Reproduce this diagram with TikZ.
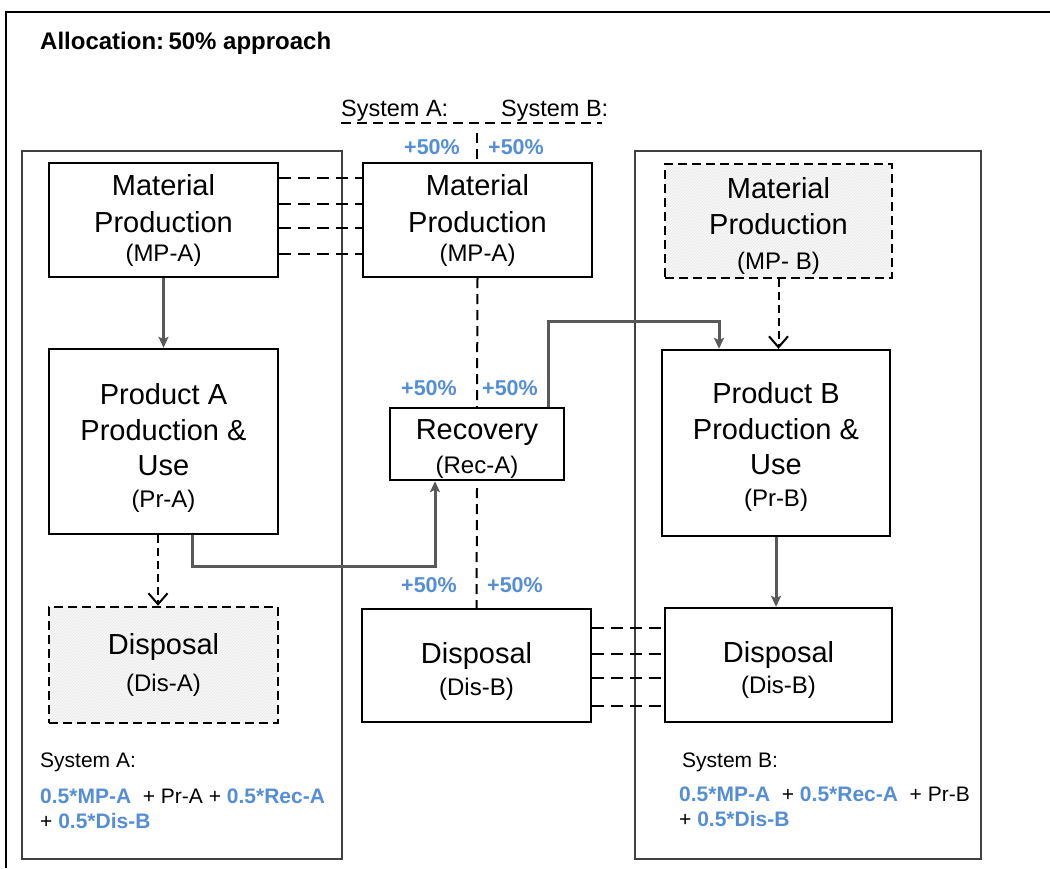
\documentclass[tikz,border=0pt]{standalone}
\usepackage{fontspec}
\setmainfont{Liberation Sans}
\usetikzlibrary{arrows.meta,patterns,calc}
\definecolor{myblue}{HTML}{558ED5}
\definecolor{arrowgray}{HTML}{595959}
\definecolor{hatchbg}{HTML}{F8F8F8}
\definecolor{framegray}{HTML}{404040}
\newcommand{\subfont}{\fontsize{24}{28}\selectfont}
\newcommand{\bluebold}[1]{\textcolor{myblue}{\bfseries #1}}
\begin{document}
\begin{tikzpicture}[x=1pt,y=-1pt,
  box/.style={draw=black, line width=2.4pt, rectangle, inner sep=0pt, align=center,
    font=\fontsize{29}{37}\selectfont},
  hatchbox/.style={box, dash pattern=on 9pt off 5pt,
    preaction={fill=hatchbg}, pattern=north east lines, pattern color=black!9},
  sysframe/.style={draw=framegray, line width=1.4pt},
  garrow/.style={draw=arrowgray, line width=3pt, -{Stealth[length=11pt,width=10pt,inset=2.5pt]}},
  darrow/.style={draw=black, line width=2pt, dash pattern=on 8pt off 5pt,
    -{Straight Barb[length=11pt,width=19pt,line width=2pt]}},
  dline/.style={draw=black, line width=2pt, dash pattern=on 12pt off 7pt},
  axisline/.style={draw=black, line width=2pt, dash pattern=on 10pt off 6pt},
  pct/.style={anchor=base west, text=myblue, font=\fontsize{21.5}{25}\selectfont\bfseries, inner sep=0pt},
  hdr/.style={anchor=base west, font=\fontsize{23.5}{28}\selectfont, inner sep=0pt},
  formula/.style={anchor=base west, font=\fontsize{21}{25}\selectfont, inner sep=0pt},
]
\useasboundingbox (0,0) rectangle (1050,868);
% outer frame
\draw[line width=1.5pt] (6,868) -- (6,12) -- (1050,12);
% title
\node[anchor=base west, inner sep=0pt, font=\fontsize{24}{28}\selectfont\bfseries] (title) at (40,49) {Allocation:\hspace{0.18em}50\% approach};
% system frames
\draw[sysframe] (22,151) rectangle (342,859);
\draw[sysframe] (635,151) rectangle (981,859);

% header
\node[hdr] (hdrA) at (341,116) {System A:};
\node[hdr] (hdrB) at (501,116) {System B:};
\coordinate (hdrL) at (341,123);
\coordinate (hdrR) at (602,123);
\coordinate (axtop) at (477,133);
\draw[axisline] (hdrL) -- (hdrR);

% boxes
\node[box, minimum width=229pt, minimum height=114pt] (mpA) at (163.5,220) {Material\\Production\\[-8pt]{\subfont (MP-A)}};
\node[box, minimum width=229pt, minimum height=114pt] (mpM) at (477.5,220) {Material\\Production\\[-8pt]{\subfont (MP-A)}};
\node[hatchbox, minimum width=227pt, minimum height=114pt] (mpB) at (778.5,221) {\rule{0pt}{30pt}Material\\[-1pt]Production\\[-2pt]{\subfont (MP- B)}};
\node[box, minimum width=229pt, minimum height=185pt] (prA) at (163.5,441.5) {\rule{0pt}{33pt}Product A\\[-1pt]Production \&\\[-2pt]Use\\[-5pt]{\subfont (Pr-A)}};
\node[box, minimum width=174pt, minimum height=72pt] (rec) at (477,444) {\rule{0pt}{29pt}Recovery\\[-3pt]{\subfont (Rec-A)}};
\node[box, minimum width=228pt, minimum height=186pt] (prB) at (776,443) {\rule{0pt}{29pt}Product B\\[-1pt]Production \&\\[-2pt]Use\\[-5pt]{\subfont (Pr-B)}};
\node[hatchbox, minimum width=229pt, minimum height=116pt] (disA) at (163.5,665) {Disposal\\{\subfont (Dis-A)}};
\node[box, minimum width=229pt, minimum height=113pt] (disM) at (476.5,665.5) {\rule{0pt}{32pt}Disposal\\[-5pt]{\subfont (Dis-B)}};
\node[box, minimum width=227pt, minimum height=114pt] (disB) at (778.5,665) {\rule{0pt}{30pt}Disposal\\[-6pt]{\subfont (Dis-B)}};

% central axis
\draw[axisline] (axtop) -- (axtop |- mpM.north);
\draw[axisline] (mpM.south) -- (rec.north);
\draw[axisline] ([yshift=-7pt]rec.south) -- (disM.north);

% dashed links
\foreach \yy in {178,204,228,254}
  \draw[dline] (mpA.east |- 0,\yy) -- (mpM.west |- 0,\yy);
\foreach \yy in {628,654,678,706}
  \draw[dline] (disM.east |- 0,\yy) -- (disB.west |- 0,\yy);

% percent labels
\node[pct] (p1) at (404,154) {+50\%};
\node[pct] (p2) at (488,154) {+50\%};
\node[pct] (p3) at (401,395) {+50\%};
\node[pct] (p4) at (482,395) {+50\%};
\node[pct] (p5) at (401,592) {+50\%};
\node[pct] (p6) at (487,592) {+50\%};

% arrows
\draw[garrow] (mpA.south) -- (prA.north);
\draw[garrow] ([xshift=28.5pt]prA.south) -- ++(0,31) -| ([xshift=-42pt]rec.south);
\draw[garrow] ([xshift=71pt]rec.north) -- ++(0,-85) -| ([xshift=-57pt]prB.north);
\draw[darrow] (mpB.south) -- (mpB.south |- prB.north);
\draw[darrow] ([xshift=-5.5pt]prA.south) -- ([xshift=-5.5pt]prA.south |- disA.north);
\draw[garrow] (prB.south) -- (prB.south |- disB.north);

% formulas
\node[formula] (fA0) at (40,767) {System A:};
\node[formula] (fA1) at (40,803) {\bluebold{0.5*MP-A}\ \ + Pr-A + \bluebold{0.5*Rec-A}};
\node[formula] (fA2) at (40,828) {+ \bluebold{0.5*Dis-B}};
\node[formula] (fB0) at (682,767) {System B:};
\node[formula] (fB1) at (679,801) {\bluebold{0.5*MP-A}\ \ + \bluebold{0.5*Rec-A}\ \ + Pr-B};
\node[formula] (fB2) at (679,826) {+ \bluebold{0.5*Dis-B}};
\end{tikzpicture}
\end{document}
